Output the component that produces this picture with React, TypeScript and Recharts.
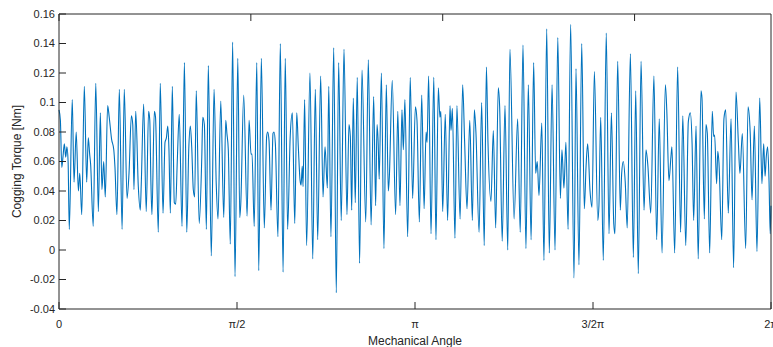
import { LineChart, Line, XAxis, YAxis } from 'recharts';

// mechanical angle in degrees (0..360 = 0..2π)
const angleDeg = [
  0, 0.7, 1.4, 2.0, 2.7, 3.4, 4.0, 4.6, 5.2, 6.7,
  7.6, 8.7, 9.8, 10.5, 11.5, 12.8, 14.0, 14.8, 15.5, 16.0,
  17.3, 18.6, 19.9, 20.9, 21.7, 22.6, 23.4, 24.6, 25.4, 26.6,
  27.7, 28.3, 29.3, 30.5, 31.9, 33.0, 34.4, 35.4, 36.6, 37.3,
  37.9, 38.8, 40.1, 41.1, 41.6, 42.8, 44.1, 45.3, 45.9, 46.5,
  47.0, 48.2, 48.8, 50.2, 51.2, 52.6, 53.6, 54.3, 55.0, 55.6,
  56.3, 57.3, 58.3, 59.0, 59.8, 60.8, 62.2, 63.4, 64.6, 65.6,
  66.4, 67.1, 67.9, 68.6, 69.4, 70.9, 72.2, 72.7, 73.5, 74.5,
  75.5, 77.0, 78.4, 79.5, 80.4, 81.8, 83.3, 84.3, 84.9, 85.6,
  86.6, 87.8, 89.0, 90.4, 91.4, 91.9, 93.4, 95.1, 96.1, 97.1,
  97.6, 98.7, 100.0, 101.0, 102.3, 103.8, 105.0, 105.5, 106.2, 107.2,
  108.2, 108.7, 109.4, 110.7, 111.9, 113.3, 114.4, 115.6, 116.9, 118.0,
  119.2, 120.2, 121.0, 121.9, 122.4, 123.0, 123.4, 124.2, 125.2, 126.9,
  128.3, 129.6, 130.8, 132.3, 133.5, 134.5, 135.7, 136.4, 137.5, 138.9,
  140.2, 141.4, 142.7, 144.1, 145.6, 146.6, 147.3, 148.0, 148.8, 149.8,
  150.8, 152.0, 153.2, 155.1, 156.4, 157.8, 159.1, 160.1, 160.8, 161.4,
  161.9, 163.0, 164.3, 165.5, 166.5, 167.0, 168.5, 170.2, 171.3, 172.4,
  173.4, 174.1, 174.9, 176.3, 177.6, 178.8, 180.2, 181.0, 182.2, 183.4,
  184.6, 185.6, 186.1, 186.9, 188.1, 189.5, 190.6, 191.8, 192.6, 193.1,
  194.0, 195.3, 196.5, 197.7, 198.2, 198.9, 200.2, 201.2, 202.8, 204.1,
  205.1, 206.3, 207.7, 209.0, 210.0, 210.8, 212.4, 213.7, 215.0, 216.1,
  216.9, 218.4, 219.6, 220.8, 222.1, 222.8, 224.1, 225.5, 226.9, 228.0,
  230.1, 231.9, 233.2, 234.6, 236.1, 237.3, 238.7, 240.0, 241.0, 241.8,
  242.7, 244.1, 245.2, 246.6, 247.9, 249.3, 250.8, 252.2, 253.5, 254.3,
  255.3, 256.3, 257.4, 258.7, 260.4, 261.4, 262.9, 264.3, 265.6, 266.5,
  267.3, 268.5, 269.5, 270.7, 272.4, 273.0, 273.9, 275.2, 276.7, 278.1,
  279.3, 280.5, 281.1, 282.5, 283.8, 284.5, 285.3, 286.3, 287.3, 288.9,
  290.4, 291.6, 292.9, 294.3, 295.8, 296.8, 297.7, 299.2, 300.8, 302.2,
  303.5, 304.9, 306.6, 307.3, 308.4, 309.4, 309.9, 311.3, 312.8, 314.3,
  315.4, 316.9, 318.2, 319.2, 320.1, 320.9, 322.1, 323.2, 324.6, 325.1,
  326.3, 327.1, 327.8, 329.0, 330.3, 331.0, 331.5, 332.5, 333.1, 333.7,
  335.1, 336.2, 337.1, 338.4, 339.8, 341.1, 342.3, 343.5, 344.3, 345.5,
  347.2, 348.4, 349.5, 350.4, 351.6, 352.9, 354.3, 355.4, 356.3, 357.0,
  357.6, 358.3, 359.0, 359.6, 360.0,
];

// cogging torque [Nm]
const torque = [
  0.095, 0.088, 0.056, 0.063, 0.072, 0.063, 0.070, 0.060, 0.014, 0.102,
  0.046, 0.080, 0.040, 0.052, 0.024, 0.111, 0.046, 0.076, 0.065, 0.058,
  0.016, 0.113, 0.026, 0.093, 0.041, 0.060, 0.036, 0.098, 0.090, 0.075,
  0.068, 0.056, 0.024, 0.109, 0.014, 0.109, 0.035, 0.052, 0.091, 0.085,
  0.041, 0.094, 0.043, 0.027, 0.045, 0.099, 0.026, 0.094, 0.088, 0.044,
  0.024, 0.094, 0.090, 0.012, 0.113, 0.025, 0.073, 0.076, 0.084, 0.068,
  0.025, 0.111, 0.032, 0.031, 0.060, 0.092, 0.016, 0.127, 0.012, 0.068,
  0.084, 0.070, 0.041, 0.036, 0.108, 0.018, 0.063, 0.090, 0.085, 0.014,
  0.125, -0.004, 0.109, 0.045, 0.021, 0.101, 0.022, 0.088, 0.079, 0.068,
  0.004, 0.141, -0.018, 0.130, 0.022, 0.031, 0.105, 0.023, 0.088, 0.065,
  0.065, 0.016, 0.127, -0.014, 0.130, 0.015, 0.077, 0.080, 0.074, 0.027,
  0.079, 0.080, 0.072, 0.009, 0.140, -0.015, 0.130, 0.014, 0.077, 0.093,
  0.018, 0.093, 0.070, 0.047, 0.044, 0.057, 0.043, 0.102, 0.003, 0.120,
  -0.006, 0.109, 0.007, 0.118, 0.036, 0.070, 0.042, 0.111, 0.009, 0.137,
  -0.029, 0.127, 0.020, 0.136, 0.024, 0.085, 0.077, 0.027, 0.103, 0.032,
  0.117, -0.009, 0.122, 0.019, 0.129, 0.017, 0.104, 0.030, 0.085, 0.072,
  0.048, 0.120, 0.001, 0.112, 0.040, 0.049, 0.115, 0.024, 0.094, 0.030,
  0.095, 0.068, 0.102, 0.009, 0.117, 0.035, 0.097, 0.088, 0.019, 0.105,
  0.028, 0.080, 0.073, 0.118, 0.011, 0.117, 0.007, 0.110, 0.090, 0.094,
  0.026, 0.092, 0.020, 0.098, 0.081, 0.096, 0.008, 0.098, 0.021, 0.112,
  0.073, 0.028, 0.088, 0.020, 0.095, 0.080, 0.012, 0.100, 0.003, 0.124,
  0.073, 0.033, 0.081, 0.015, 0.110, 0.097, 0.006, 0.098, 0.000, 0.136,
  0.021, 0.089, 0.012, 0.139, 0.001, 0.112, 0.007, 0.127, 0.052, 0.060,
  0.037, 0.086, -0.007, 0.150, -0.002, 0.112, 0.000, 0.144, 0.035, 0.068,
  0.042, 0.073, 0.014, 0.153, -0.019, 0.123, -0.010, 0.140, 0.028, 0.057,
  0.072, 0.040, 0.029, 0.121, 0.020, 0.030, 0.090, -0.007, 0.147, 0.011,
  0.093, 0.018, 0.011, 0.128, 0.027, 0.052, 0.060, 0.046, 0.015, 0.133,
  -0.005, 0.108, -0.016, 0.128, 0.027, 0.068, 0.058, 0.025, 0.118, 0.007,
  0.089, -0.002, 0.112, 0.095, 0.047, 0.063, 0.070, -0.002, 0.124, 0.012,
  0.091, 0.003, 0.087, 0.093, 0.072, 0.020, 0.084, -0.006, 0.108, 0.103,
  0.021, 0.085, 0.079, -0.002, 0.094, 0.077, 0.078, 0.045, 0.067, 0.059,
  0.007, 0.089, 0.095, 0.025, 0.089, -0.012, 0.107, 0.073, 0.052, 0.079,
  0.001, 0.097, 0.079, 0.034, 0.084, -0.001, 0.103, 0.045, 0.072, 0.050,
  0.063, 0.070, 0.047, 0.011, 0.030,
];

const xTicks = [0, 90, 180, 270, 360];
const xTickLabels = ['0', 'π/2', 'π', '3/2π', '2π'];
const yTicks = [-0.04, -0.02, 0, 0.02, 0.04, 0.06, 0.08, 0.1, 0.12, 0.14, 0.16];

const data = angleDeg.map((a, i) => ({ angle: a, torque: torque[i] }));

const font = '"Liberation Sans", Arial, Helvetica, sans-serif';
const textColor = '#262626';
const boxColor = '#262626';
const tickStyle = { fill: textColor, fontSize: 11, fontFamily: font };
const noLabel = () => <g />;

export default function App() {
  return (
    <div style={{ position: 'absolute', left: 0, top: 0, background: '#fff' }}>
      <LineChart width={773} height={347} data={data} margin={{ top: 13, right: 1, bottom: 0, left: 0 }}>
        <XAxis
          type="number"
          dataKey="angle"
          domain={[0, 360]}
          ticks={xTicks}
          interval={0}
          tickFormatter={(v) => xTickLabels[xTicks.indexOf(v)]}
          height={38}
          tick={tickStyle}
          tickSize={-7}
          tickMargin={18}
          stroke={boxColor}
          label={{ value: 'Mechanical Angle', position: 'center', dy: 13, fill: textColor, fontSize: 12, fontFamily: font }}
        />
        <XAxis
          xAxisId="top"
          orientation="top"
          type="number"
          domain={[0, 360]}
          ticks={xTicks}
          interval={0}
          height={1}
          tick={noLabel}
          tickSize={-7}
          stroke={boxColor}
        />
        <YAxis
          type="number"
          domain={[-0.04, 0.16]}
          ticks={yTicks}
          interval={0}
          width={59}
          tick={tickStyle}
          tickSize={-7}
          tickMargin={11}
          tickFormatter={(v) => String(Number(v.toFixed(2)))}
          stroke={boxColor}
          label={{ value: 'Cogging Torque [Nm]', angle: -90, position: 'center', dx: -13, fill: textColor, fontSize: 12, fontFamily: font }}
        />
        <YAxis
          yAxisId="right"
          orientation="right"
          type="number"
          domain={[-0.04, 0.16]}
          ticks={yTicks}
          interval={0}
          width={1}
          tick={noLabel}
          tickSize={-7}
          stroke={boxColor}
        />
        <Line
          type="monotoneX"
          dataKey="torque"
          stroke="#0072BD"
          strokeWidth={1.1}
          dot={false}
          isAnimationActive={false}
        />
      </LineChart>
    </div>
  );
}
